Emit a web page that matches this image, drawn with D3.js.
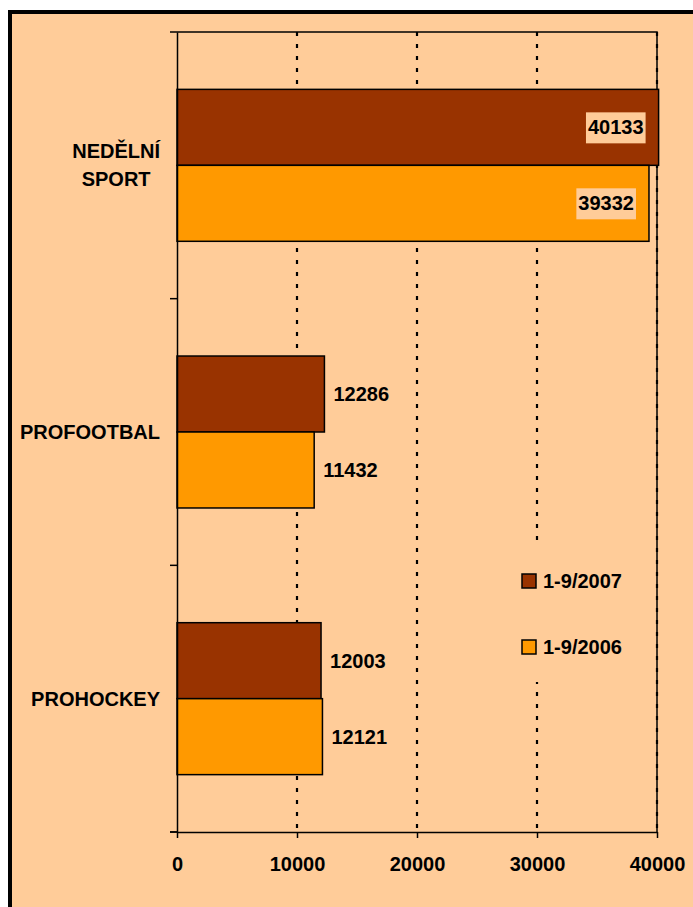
<!DOCTYPE html>
<html>
<head>
<meta charset="utf-8">
<script src="https://cdn.jsdelivr.net/npm/d3@7"></script>
<style>
  body { margin: 0; background: #fff; }
  svg text { font-family: Arial, "Liberation Sans", sans-serif; font-weight: bold; fill: #000; }
</style>
</head>
<body>
<div id="chart"></div>
<script>
(function() {
  const categories = ['NEDĚLNÍ SPORT', 'PROFOOTBAL', 'PROHOCKEY'];
  const series = ['1-9/2007', '1-9/2006'];
  const values2007 = [40133, 12286, 12003];
  const values2006 = [39332, 11432, 12121];
  const xTicks = [0, 10000, 20000, 30000, 40000];
  const colors = ['#993300', '#FF9900'];

  const W = 693, H = 907;
  const plot = {left: 177, right: 657, top: 32, bottom: 832};

  const data = categories.map((c, i) => ({
    cat: c,
    vals: [{s: series[0], v: values2007[i]}, {s: series[1], v: values2006[i]}]
  }));

  const x = d3.scaleLinear().domain([0, 40000]).range([plot.left, plot.right]);
  const y0 = d3.scaleBand().domain(categories).range([plot.top, plot.bottom]).padding(0);
  const y1 = d3.scaleBand().domain(series).range([0, y0.bandwidth()]).paddingInner(0).paddingOuter(0.755);
  const color = d3.scaleOrdinal().domain(series).range(colors);

  const svg = d3.select('#chart').append('svg')
    .attr('width', W)
    .attr('height', H);

  // background + frame (only left/top visible)
  svg.append('rect')
    .attr('x', 10).attr('y', 12)
    .attr('width', W + 20).attr('height', H + 20)
    .attr('fill', '#FFCC99')
    .attr('stroke', '#000')
    .attr('stroke-width', 4);

  // gridlines
  svg.append('g')
    .selectAll('line')
    .data(xTicks.slice(1))
    .enter().append('line')
      .attr('x1', d => x(d)).attr('x2', d => x(d))
      .attr('y1', plot.top).attr('y2', plot.bottom)
      .attr('stroke', '#000')
      .attr('stroke-width', 2.2)
      .attr('stroke-dasharray', '4,8');

  // plot border top/right
  svg.append('path')
    .attr('d', `M${plot.left},${plot.top}H${plot.right}V${plot.bottom}`)
    .attr('fill', 'none')
    .attr('stroke', '#000')
    .attr('stroke-width', 1.5);

  // bars
  const groups = svg.selectAll('.cat')
    .data(data)
    .enter().append('g')
      .attr('class', 'cat')
      .attr('transform', d => `translate(0,${y0(d.cat)})`);

  groups.selectAll('rect')
    .data(d => d.vals)
    .enter().append('rect')
      .attr('x', x(0))
      .attr('y', d => y1(d.s))
      .attr('width', d => x(d.v) - x(0))
      .attr('height', y1.bandwidth())
      .attr('fill', d => color(d.s))
      .attr('stroke', '#000')
      .attr('stroke-width', 1.5);

  // value labels
  groups.each(function(d) {
    const g = d3.select(this);
    d.vals.forEach(v => {
      const cy = y1(v.s) + y1.bandwidth() / 2;
      const t = g.append('text')
        .attr('font-size', 20)
        .attr('y', cy + 7)
        .text(v.v);
      const w = t.node().getComputedTextLength();
      const end = x(v.v);
      if (end + 9 + w > W - 10) {
        const tx = end - 13 - w - 2;
        t.attr('x', tx);
        g.insert('rect', function() { return t.node(); })
          .attr('x', tx - 2).attr('y', cy - 15)
          .attr('width', w + 4).attr('height', 31)
          .attr('fill', '#FFCC99');
      } else {
        t.attr('x', end + 9);
      }
    });
  });

  // y axis
  svg.append('g')
    .attr('transform', `translate(${plot.left},0)`)
    .call(d3.axisLeft(y0).tickValues([]).tickSizeOuter(0))
    .call(g => g.select('.domain').attr('stroke-width', 1.5))
    .call(g => g.selectAll('.tk')
      .data([plot.top, ...categories.map(c => y0(c) + y0.bandwidth())])
      .enter().append('line')
        .attr('x1', -7).attr('x2', 0)
        .attr('y1', d => d).attr('y2', d => d)
        .attr('stroke', '#000').attr('stroke-width', 1.5));

  // category labels
  categories.forEach(c => {
    const words = c.split(' ');
    const cy = y0(c) + y0.bandwidth() / 2;
    const lh = 28;
    const tg = svg.append('g');
    const texts = words.map((w, i) => tg.append('text')
      .attr('font-size', 20)
      .attr('y', cy + 7 + (i - (words.length - 1) / 2) * lh)
      .text(w));
    const widths = texts.map(t => t.node().getComputedTextLength());
    const maxW = d3.max(widths);
    const right = 160;
    texts.forEach((t, i) => t.attr('x', right - maxW / 2 - widths[i] / 2));
  });

  // x axis
  svg.append('g')
    .attr('transform', `translate(0,${plot.bottom})`)
    .call(d3.axisBottom(x).tickValues(xTicks).tickSize(6).tickSizeOuter(0).tickFormat(d3.format('d')))
    .call(g => g.select('.domain').attr('stroke-width', 1.5))
    .call(g => g.selectAll('.tick line').attr('stroke-width', 1.5))
    .call(g => g.selectAll('.tick text')
      .attr('font-size', 20)
      .attr('font-family', 'Arial, "Liberation Sans", sans-serif')
      .attr('font-weight', 'bold')
      .attr('dy', null)
      .attr('y', 39));

  // extra left tick at bottom corner
  svg.append('line')
    .attr('x1', plot.left - 7).attr('x2', plot.left)
    .attr('y1', plot.bottom).attr('y2', plot.bottom)
    .attr('stroke', '#000').attr('stroke-width', 1.5);

  // legend
  const legend = svg.append('g').attr('transform', 'translate(510,540)');
  legend.append('rect')
    .attr('width', 140).attr('height', 142)
    .attr('fill', '#FFCC99');
  series.forEach((s, i) => {
    const ly = 34 + i * 66;
    legend.append('rect')
      .attr('x', 12).attr('y', ly)
      .attr('width', 14).attr('height', 14)
      .attr('fill', color(s))
      .attr('stroke', '#000').attr('stroke-width', 1.5);
    legend.append('text')
      .attr('x', 33).attr('y', ly + 14)
      .attr('font-size', 20)
      .text(s);
  });
})();
</script>
</body>
</html>
